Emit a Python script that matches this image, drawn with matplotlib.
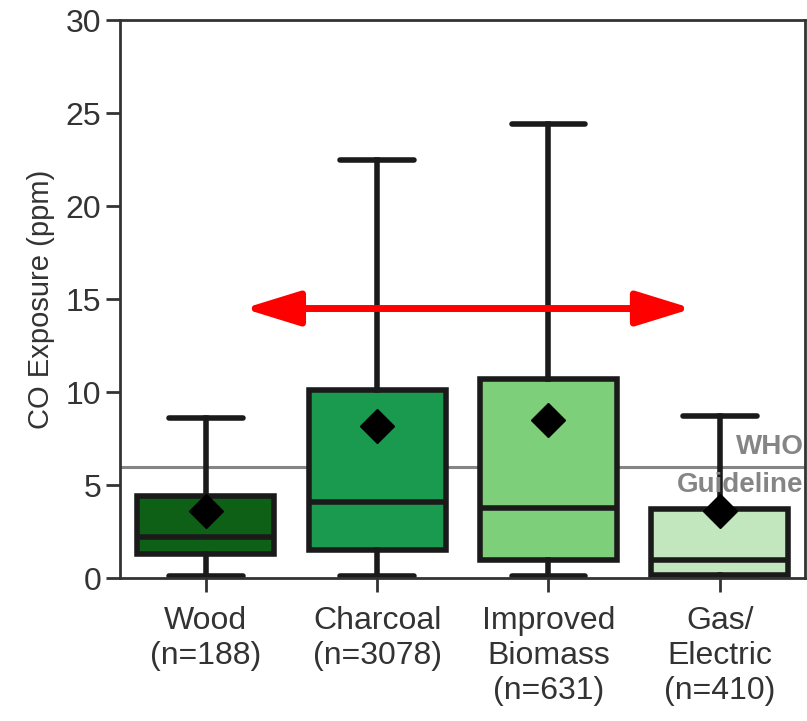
import matplotlib.pyplot as plt

plt.rcParams['font.family'] = ['Liberation Sans', 'DejaVu Sans']

# values (ppm)
labels = ["Wood\n(n=188)", "Charcoal\n(n=3078)", "Improved\nBiomass\n(n=631)", "Gas/\nElectric\n(n=410)"]
whisker_low = [0.1, 0.1, 0.1, 0.1]
q1 = [1.3, 1.5, 1.0, 0.2]
median = [2.2, 4.1, 3.8, 1.0]
q3 = [4.4, 10.1, 10.7, 3.7]
whisker_high = [8.6, 22.5, 24.4, 8.7]
means = [3.6, 8.2, 8.5, 3.6]
box_colors = ["#0d6016", "#1a9a4f", "#7ecf7a", "#c2e7be"]

who_guideline = 6.0
arrow_from, arrow_to, arrow_y = 0.22, 2.84, 14.5

fig = plt.figure(figsize=(8.07, 7.21), dpi=100)
ax = fig.add_axes([0.149, 0.198, 0.849, 0.774])

stats = []
for i in range(len(labels)):
    stats.append({
        "whislo": whisker_low[i], "q1": q1[i], "med": median[i],
        "q3": q3[i], "whishi": whisker_high[i], "mean": means[i], "fliers": [],
    })

edge = "#1a1a1a"
bp = ax.bxp(stats, positions=range(len(labels)), widths=0.8, patch_artist=True,
            showmeans=True, showfliers=False,
            boxprops=dict(edgecolor=edge, linewidth=4),
            medianprops=dict(color=edge, linewidth=4),
            whiskerprops=dict(color=edge, linewidth=4),
            capprops=dict(color=edge, linewidth=4, solid_capstyle="round"),
            meanprops=dict(marker="D", markerfacecolor="black", markeredgecolor="black",
                           markersize=17), capwidths=0.43)
for patch, c in zip(bp["boxes"], box_colors):
    patch.set_facecolor(c)

# WHO guideline
ax.axhline(who_guideline, color="#858585", linewidth=2.2, zorder=1)
ax.text(3.49, who_guideline + 0.35, "WHO", ha="right", va="bottom", color="#858585",
        fontsize=20, fontweight="bold")
ax.text(3.49, who_guideline - 0.3, "Guideline", ha="right", va="top", color="#858585",
        fontsize=20, fontweight="bold")

# red double arrow
ax.annotate("", xy=(arrow_from, arrow_y), xytext=(arrow_to, arrow_y),
            arrowprops=dict(arrowstyle="<|-|>,head_length=3.4,head_width=1.05",
                            color="#ff0000", linewidth=5, shrinkA=0, shrinkB=0),
            zorder=5)

ax.set_xlim(-0.5, 3.5)
ax.set_ylim(0, 30)
ax.set_yticks([0, 5, 10, 15, 20, 25, 30])
ax.set_xticks(range(len(labels)))
ax.set_xticklabels(labels, fontsize=23, color="#333333", linespacing=1.22)
ax.tick_params(axis="y", labelsize=23, labelcolor="#333333")
ax.tick_params(axis="x", pad=10)
ax.tick_params(direction="out", length=10, width=2, color="#333333")
ax.set_ylabel("CO Exposure (ppm)", fontsize=21, color="#333333", labelpad=8)
for s in ax.spines.values():
    s.set_linewidth(2)
    s.set_color("#333333")

fig.savefig("out.png", dpi=100)
